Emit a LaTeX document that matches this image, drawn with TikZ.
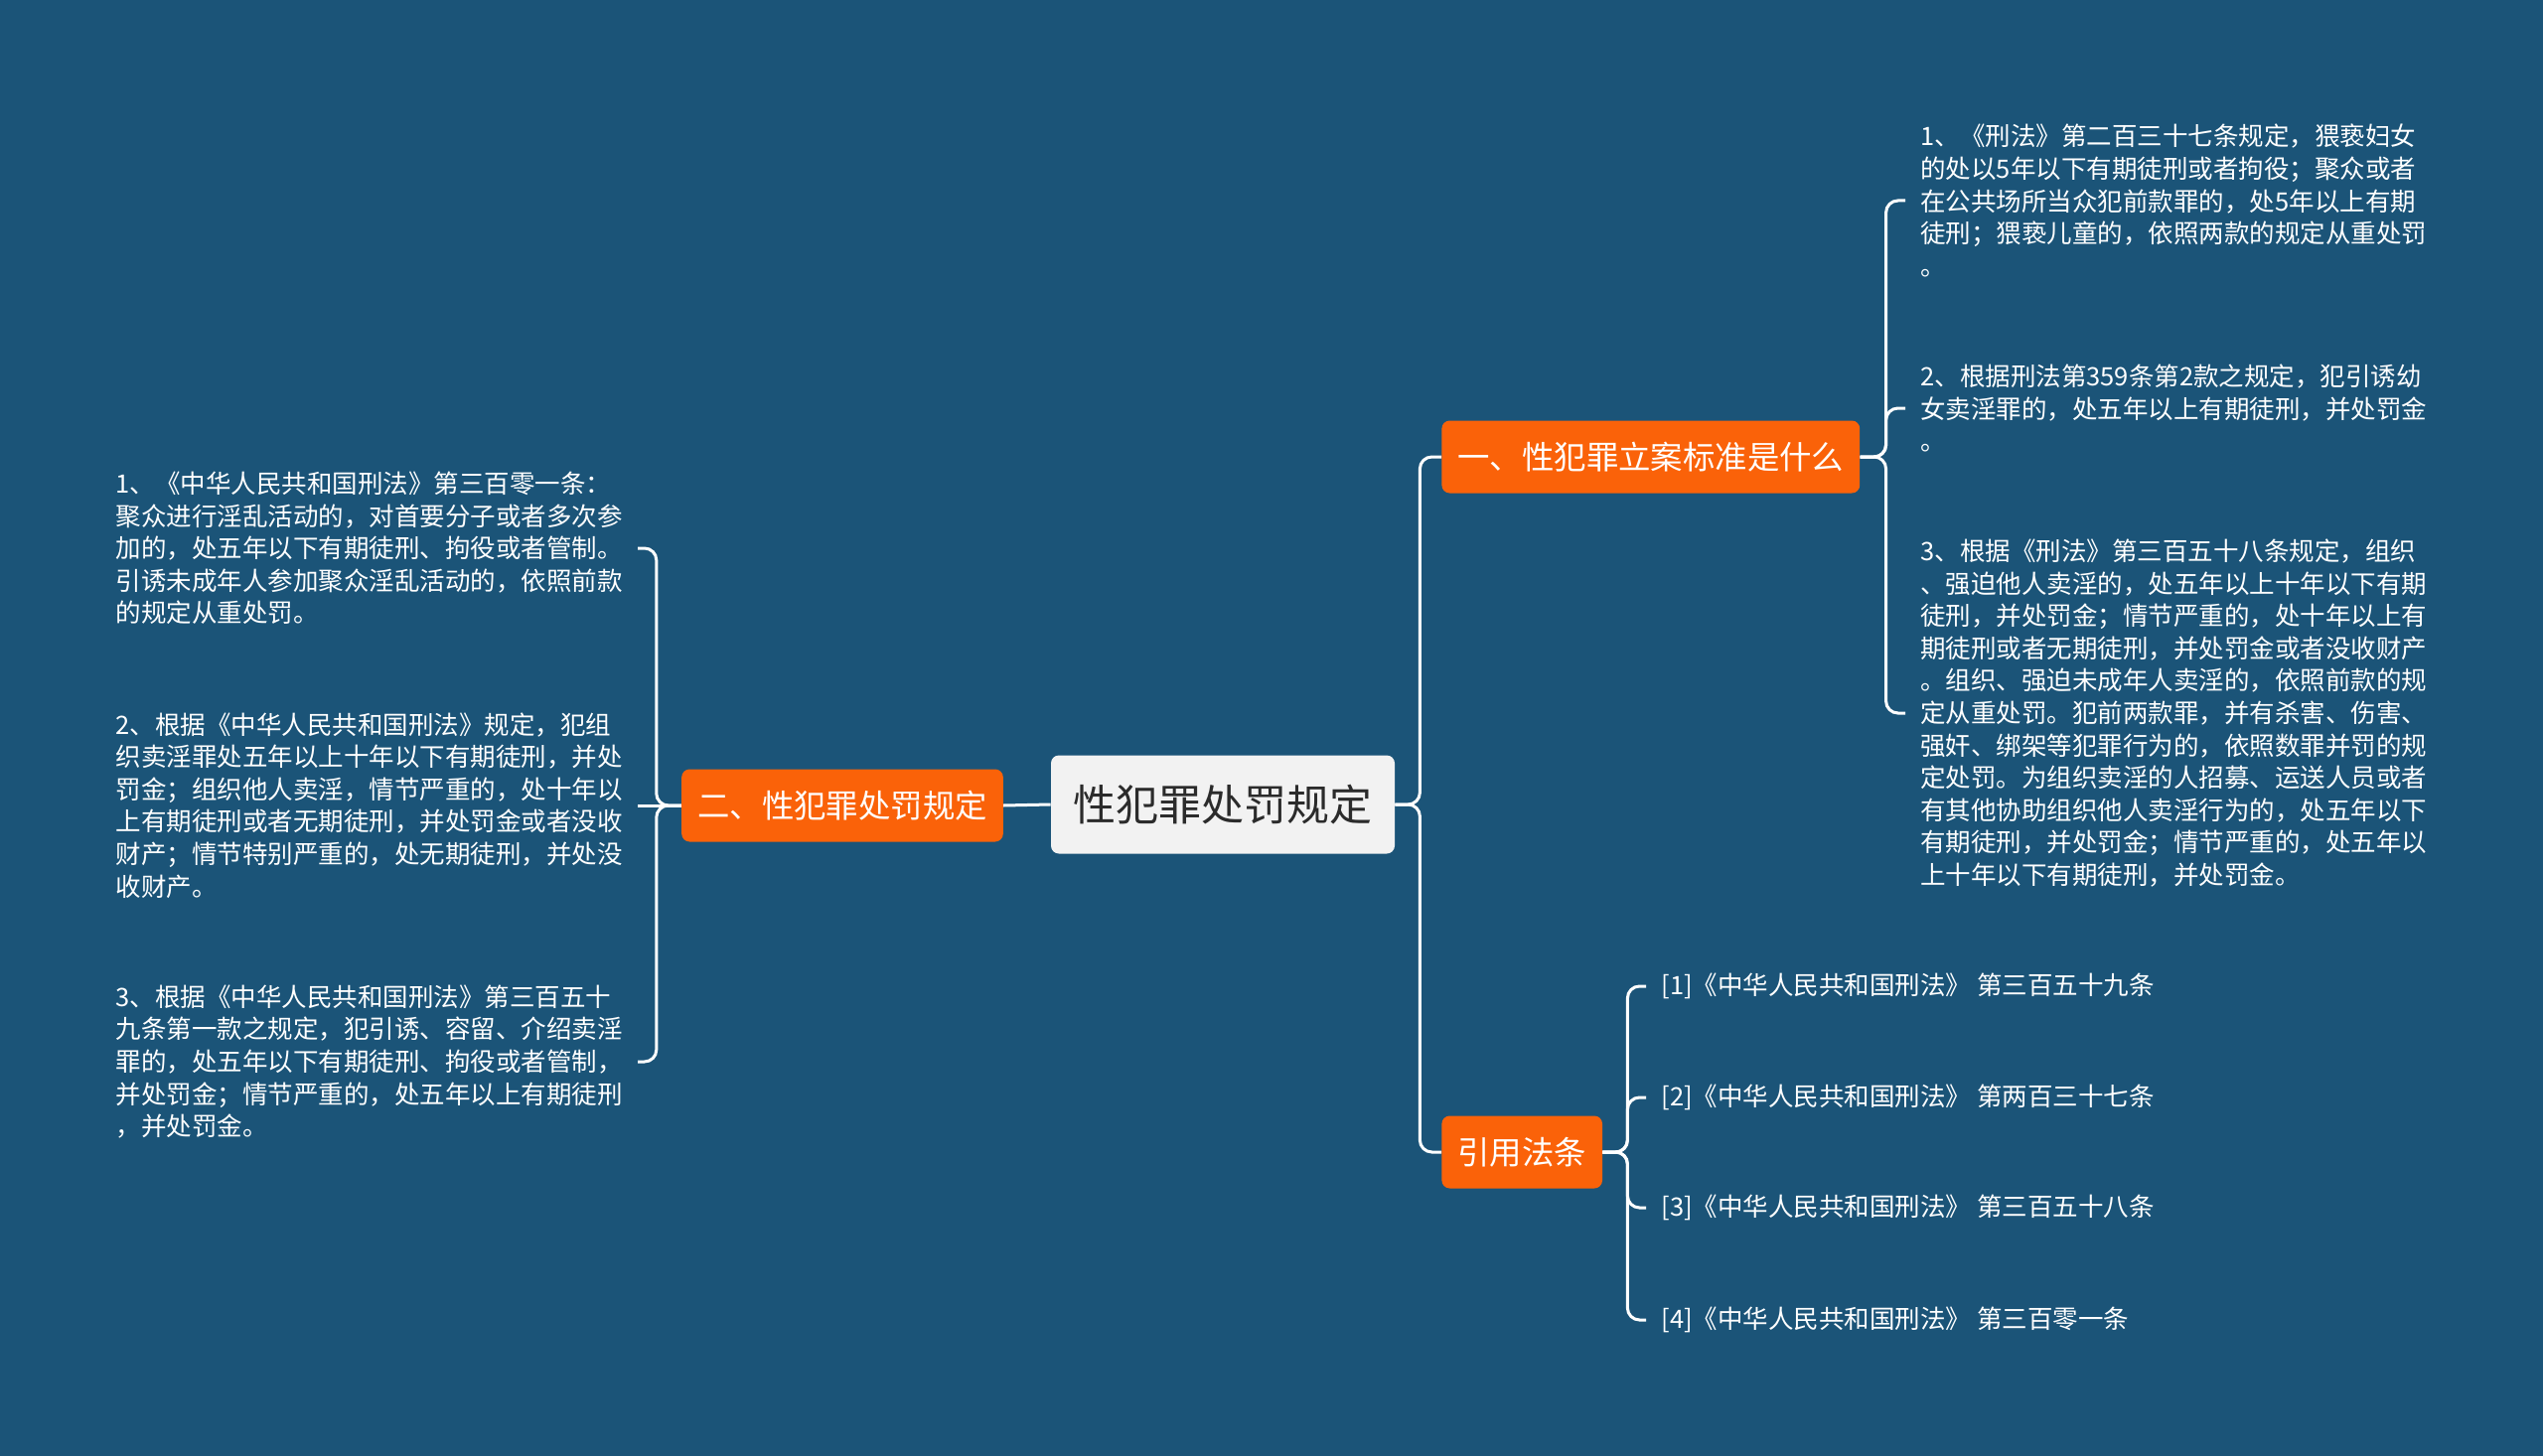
\documentclass[tikz,border=0pt]{standalone}
\usepackage{fontspec}
\setmainfont{Noto Sans CJK SC}
\definecolor{bgblue}{HTML}{1B5478}
\definecolor{branchorange}{HTML}{FA6209}
\definecolor{rootgray}{HTML}{F2F2F2}
\definecolor{roottext}{HTML}{2B2B2B}
\begin{document}
\begin{tikzpicture}[
        x=0.5pt, y=-0.5pt,
        root/.style={fill=rootgray, text=roottext, rounded corners=4pt, minimum width=173pt, minimum height=49.5pt, font=\fontsize{21.5}{26}\selectfont},
        branch/.style={fill=branchorange, text=white, rounded corners=4pt, minimum height=36.5pt, inner xsep=8pt, font=\fontsize{16.2}{20}\selectfont},
        leaf/.style={text=white, align=left, inner xsep=7.5pt, inner ysep=0pt, font=\fontsize{12.75}{16.3}\selectfont},
        link/.style={draw=white, line width=1.5pt, rounded corners=6pt}
    ]
        % Background
        \fill[bgblue] (0,0) rectangle (2560,1466);
        \useasboundingbox (0,0) rectangle (2560,1466);

        % Root and branches
        \node[root] (root) at (1231,810) {性犯罪处罚规定};
        \node[branch, anchor=west] (std) at (1451,460) {一、性犯罪立案标准是什么};
        \node[branch] (pun) at (848,811) {二、性犯罪处罚规定};
        \node[branch, anchor=west] (ref) at (1451,1160) {引用法条};

        % Leaves of the first branch
        \node[leaf, anchor=west] (std1) at (1918,202) {1、《刑法》第二百三十七条规定，猥亵妇女\\的处以5年以下有期徒刑或者拘役；聚众或者\\在公共场所当众犯前款罪的，处5年以上有期\\徒刑；猥亵儿童的，依照两款的规定从重处罚\\。};
        \node[leaf, anchor=west] (std2) at (1918,411) {2、根据刑法第359条第2款之规定，犯引诱幼\\女卖淫罪的，处五年以上有期徒刑，并处罚金\\。};
        \node[leaf, anchor=west] (std3) at (1918,718) {3、根据《刑法》第三百五十八条规定，组织\\、强迫他人卖淫的，处五年以上十年以下有期\\徒刑，并处罚金；情节严重的，处十年以上有\\期徒刑或者无期徒刑，并处罚金或者没收财产\\。组织、强迫未成年人卖淫的，依照前款的规\\定从重处罚。犯前两款罪，并有杀害、伤害、\\强奸、绑架等犯罪行为的，依照数罪并罚的规\\定处罚。为组织卖淫的人招募、运送人员或者\\有其他协助组织他人卖淫行为的，处五年以下\\有期徒刑，并处罚金；情节严重的，处五年以\\上十年以下有期徒刑，并处罚金。};

        % Leaves of the second branch
        \node[leaf, anchor=east, text width=255pt] (pun1) at (642,552) {1、《中华人民共和国刑法》第三百零一条：\\聚众进行淫乱活动的，对首要分子或者多次参\\加的，处五年以下有期徒刑、拘役或者管制。\\引诱未成年人参加聚众淫乱活动的，依照前款\\的规定从重处罚。};
        \node[leaf, anchor=east, text width=255pt] (pun2) at (642,811) {2、根据《中华人民共和国刑法》规定，犯组\\织卖淫罪处五年以上十年以下有期徒刑，并处\\罚金；组织他人卖淫，情节严重的，处十年以\\上有期徒刑或者无期徒刑，并处罚金或者没收\\财产；情节特别严重的，处无期徒刑，并处没\\收财产。};
        \node[leaf, anchor=east, text width=255pt] (pun3) at (642,1069) {3、根据《中华人民共和国刑法》第三百五十\\九条第一款之规定，犯引诱、容留、介绍卖淫\\罪的，处五年以下有期徒刑、拘役或者管制，\\并处罚金；情节严重的，处五年以上有期徒刑\\，并处罚金。};

        % Cited articles
        \node[leaf, anchor=west] (ref1) at (1657,993) {[1]《中华人民共和国刑法》 第三百五十九条};
        \node[leaf, anchor=west] (ref2) at (1657,1105) {[2]《中华人民共和国刑法》 第两百三十七条};
        \node[leaf, anchor=west] (ref3) at (1657,1216) {[3]《中华人民共和国刑法》 第三百五十八条};
        \node[leaf, anchor=west] (ref4) at (1657,1329) {[4]《中华人民共和国刑法》 第三百零一条};

        % Connectors
        \draw[link] (root.west) -- (pun.east);
        \draw[link] (root.east) -- ++(25,0) |- (std.west);
        \draw[link] (root.east) -- ++(25,0) |- (ref.west);
        \foreach \leafname in {std1, std2, std3}
            \draw[link] (std.east) -- ++(26,0) |- (\leafname.west);
        \foreach \leafname in {pun1, pun3}
            \draw[link] (pun.west) -- ++(-25,0) |- (\leafname.east);
        \draw[link] (pun.west) -- (pun2.east);
        \foreach \leafname in {ref1, ref2, ref3, ref4}
            \draw[link] (ref.east) -- ++(25,0) |- (\leafname.west);
    \end{tikzpicture}
\end{document}
